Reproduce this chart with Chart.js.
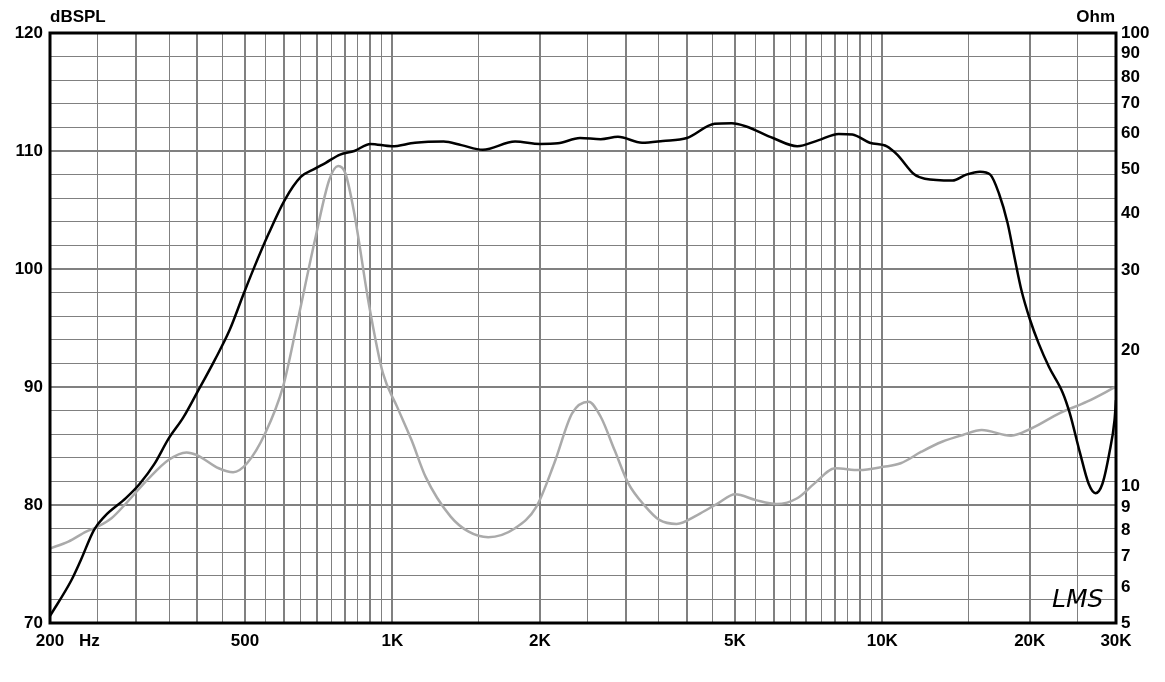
<!DOCTYPE html>
<html>
<head>
<meta charset="utf-8">
<script src="https://cdn.jsdelivr.net/npm/chart.js@4"></script>
<style>
  html, body { margin: 0; padding: 0; background: #fff; }
  #wrap { width: 1165px; height: 682px; position: relative; }
</style>
</head>
<body>
<div id="wrap"><canvas id="myChart"></canvas></div>
<script>
// SPL curve (black, left axis)
const splFreq = [200,221,231,246,258,286,305,327,349,374,399,434,465,497,523,559,602,650,695,731,782,836,902,997,1112,1272,1383,1530,1780,2001,2177,2415,2662,2887,3233,3564,3993,4546,4929,5258,5984,6704,7395,8145,8690,9426,10220,10726,11638,12215,13910,14838,15828,16612,17306,18021,18615,19234,20026,20854,21898,23362,24130,25336,26381,27250,28148,29076,29794,30000];
const splDb = [70.6,73.6,75.3,77.9,79.0,80.6,81.8,83.5,85.6,87.4,89.5,92.3,94.8,97.9,100.2,103.0,105.8,107.8,108.5,109.0,109.7,110.0,110.6,110.4,110.7,110.8,110.5,110.1,110.8,110.6,110.65,111.1,111.0,111.2,110.7,110.85,111.1,112.3,112.35,112.1,111.1,110.4,110.9,111.45,111.4,110.7,110.4,109.7,108.0,107.65,107.5,108.0,108.25,108.0,106.4,103.9,101.0,98.2,95.7,93.7,91.7,89.5,87.8,84.4,81.8,81.0,81.8,84.4,87.2,88.9];

// impedance curve (grey, right axis)
const impFreq = [200,218,237,250,267,286,316,349,380,399,442,473,505,550,598,639,695,743,775,802,836,895,956,1022,1094,1169,1315,1431,1569,1780,1968,2140,2327,2515,2662,2841,3031,3286,3506,3803,4191,4618,5008,5522,6088,6704,7274,8016,8976,10054,10904,12020,13243,14604,15960,18312,20187,22980,26170,30000];
const impOhm = [7.3,7.56,7.95,8.15,8.51,9.18,10.34,11.44,11.89,11.73,10.97,10.75,11.25,13.1,16.6,22.9,35.0,47.4,50.9,49.0,40.0,25.3,17.8,15.0,12.66,10.5,8.58,7.95,7.73,8.09,9.03,11.25,14.5,15.38,14.25,12.03,10.16,9.03,8.44,8.27,8.65,9.18,9.61,9.33,9.15,9.42,10.16,10.97,10.87,11.05,11.25,11.93,12.55,12.99,13.32,12.94,13.44,14.5,15.38,16.6];

// axes
const xGrid = [200,250,300,350,400,450,500,550,600,650,700,750,800,850,900,950,1000,1500,2000,2500,3000,3500,4000,4500,5000,5500,6000,6500,7000,7500,8000,8500,9000,9500,10000,15000,20000,25000,30000];
const xLabelValues = [200,500,1000,2000,5000,10000,20000,30000];
const xLabelTexts = ['200','500','1K','2K','5K','10K','20K','30K'];
const ohmTicks = [5,6,7,8,9,10,20,30,40,50,60,70,80,90,100];

const FONT = { family: '"Liberation Sans", Arial, sans-serif', size: 17, weight: 'bold' };
const GRID = '#808080';

const toPoints = (xs, ys) => xs.map((x, i) => ({ x: x, y: ys[i] }));

const isWhole = v => {
  const m = v / Math.pow(10, Math.floor(Math.log10(v) + 1e-9));
  return Math.abs(m - Math.round(m)) < 1e-6;
};

const decor = {
  id: 'decor',
  afterDraw(chart) {
    const c = chart.ctx;
    const a = chart.chartArea;
    c.save();
    c.strokeStyle = '#000';
    c.lineWidth = 3;
    c.strokeRect(a.left, a.top, a.right - a.left, a.bottom - a.top);
    c.fillStyle = '#000';
    c.font = 'bold 17px "Liberation Sans", Arial, sans-serif';
    c.textBaseline = 'middle';
    c.textAlign = 'left';
    c.fillText('dBSPL', a.left, 17);
    c.fillText('Hz', 79, 641);
    c.textAlign = 'right';
    c.fillText('Ohm', a.right - 1, 17);
    c.textAlign = 'left';
    c.font = 'italic 25px "DejaVu Sans", sans-serif';
    c.fillText('LMS', 1052, 600);
    c.restore();
  }
};

const ctx = document.getElementById('myChart').getContext('2d');
new Chart(ctx, {
  type: 'line',
  data: {
    datasets: [
      {
        label: 'SPL',
        data: toPoints(splFreq, splDb),
        yAxisID: 'y',
        borderColor: '#000',
        borderWidth: 2.5,
        pointRadius: 0,
        cubicInterpolationMode: 'monotone',
        order: 1
      },
      {
        label: 'Impedance',
        data: toPoints(impFreq, impOhm),
        yAxisID: 'y2',
        borderColor: '#aaaaaa',
        borderWidth: 2.5,
        pointRadius: 0,
        cubicInterpolationMode: 'monotone',
        order: 2
      }
    ]
  },
  options: {
    responsive: true,
    maintainAspectRatio: false,
    animation: false,
    layout: { padding: { top: 33, left: 0, right: 0, bottom: 0 } },
    plugins: { legend: { display: false }, tooltip: { enabled: false } },
    scales: {
      x: {
        type: 'logarithmic',
        min: 200,
        max: 30000,
        afterBuildTicks: s => { s.ticks = xGrid.map(v => ({ value: v })); },
        afterFit: s => { s.height = 59; },
        border: { display: false },
        grid: {
          color: GRID,
          drawTicks: false,
          lineWidth: c => (c.tick && isWhole(c.tick.value)) ? 2 : 1
        },
        ticks: {
          autoSkip: false,
          maxRotation: 0,
          padding: 8,
          color: '#000',
          font: FONT,
          callback: v => {
            const i = xLabelValues.indexOf(v);
            return i >= 0 ? xLabelTexts[i] : '';
          }
        }
      },
      y: {
        position: 'left',
        min: 70,
        max: 120,
        afterFit: s => { s.width = 50; },
        border: { display: false },
        grid: {
          color: GRID,
          drawTicks: false,
          lineWidth: c => (c.tick && c.tick.value % 10 === 0) ? 2 : 1
        },
        ticks: {
          stepSize: 2,
          autoSkip: false,
          padding: 7,
          color: '#000',
          font: FONT,
          callback: v => (v % 10 === 0 ? String(v) : '')
        }
      },
      y2: {
        type: 'logarithmic',
        position: 'right',
        min: 5,
        max: 100,
        afterBuildTicks: s => { s.ticks = ohmTicks.map(v => ({ value: v })); },
        afterFit: s => { s.width = 49; },
        border: { display: false },
        grid: { display: false, drawTicks: false },
        ticks: {
          autoSkip: false,
          padding: 5,
          color: '#000',
          font: FONT,
          callback: v => String(v)
        }
      }
    }
  },
  plugins: [decor]
});
</script>
</body>
</html>
